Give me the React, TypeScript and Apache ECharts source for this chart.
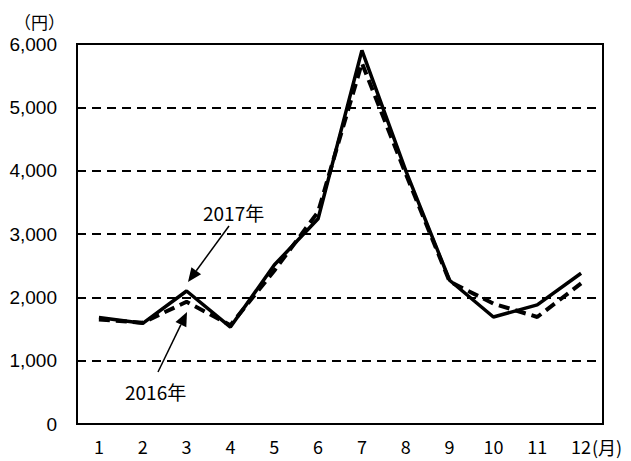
import React, { useEffect, useRef } from "react";
import * as echarts from "echarts";

const months = ["1", "2", "3", "4", "5", "6", "7", "8", "9", "10", "11", "12"];
const y2017 = [1680, 1590, 2100, 1530, 2510, 3240, 5900, 4000, 2270, 1690, 1880, 2380];
const y2016 = [1650, 1600, 1930, 1560, 2420, 3350, 5700, 3950, 2250, 1900, 1690, 2220];
const yTicks = [0, 1000, 2000, 3000, 4000, 5000, 6000];
const FONT = "'Noto Sans CJK JP', sans-serif";
const YFONT = "'Liberation Sans', Arial, sans-serif";

function arrow(tail: number[], head: number[]) {
  const dx = head[0] - tail[0];
  const dy = head[1] - tail[1];
  const len = Math.sqrt(dx * dx + dy * dy);
  const ux = dx / len, uy = dy / len;
  const L = 14, W = 6;
  const bx = head[0] - ux * L, by = head[1] - uy * L;
  return [
    { type: "line", shape: { x1: tail[0], y1: tail[1], x2: bx, y2: by }, style: { stroke: "#000", lineWidth: 1.5 } },
    {
      type: "polygon",
      shape: { points: [head, [bx - uy * W, by + ux * W], [bx + uy * W, by - ux * W]] },
      style: { fill: "#000" },
    },
  ];
}

export default function App() {
  const ref = useRef<HTMLDivElement>(null);
  useEffect(() => {
    const chart = echarts.init(ref.current!, undefined, { renderer: "svg" });
    chart.setOption({
      animation: false,
      backgroundColor: "#fff",
      grid: { left: 77, right: 28, top: 44, bottom: 37, show: true, borderColor: "#000", borderWidth: 2, containLabel: false },
      xAxis: {
        type: "category",
        data: months,
        boundaryGap: true,
        axisLine: { lineStyle: { color: "#000", width: 2 } },
        axisTick: { show: false },
        axisLabel: { color: "#000", fontSize: 18, fontFamily: FONT, margin: 13 },
      },
      yAxis: {
        type: "value",
        min: yTicks[0],
        max: yTicks[yTicks.length - 1],
        interval: 1000,
        axisLine: { show: true, lineStyle: { color: "#000", width: 2 } },
        axisTick: { show: false },
        axisLabel: {
          color: "#000",
          fontSize: 19,
          fontFamily: YFONT,
          margin: 20,
          formatter: (v: number) => v.toLocaleString("en-US"),
        },
        splitLine: { show: true, lineStyle: { color: "#000", width: 2, type: [9, 6] } },
      },
      series: [
        {
          name: "2016年",
          type: "line",
          data: y2016,
          symbol: "none",
          lineStyle: { color: "#000", width: 4, type: [11, 6] },
          z: 3,
        },
        {
          name: "2017年",
          type: "line",
          data: y2017,
          symbol: "none",
          lineStyle: { color: "#000", width: 3.5 },
          z: 4,
        },
      ],
      graphic: [
        { type: "text", x: 14, y: 21, style: { text: "（円）", font: `17px ${FONT}`, fill: "#000", verticalAlign: "middle" } },
        { type: "text", x: 592, y: 447, style: { text: "(月)", font: `18px ${FONT}`, fill: "#000", verticalAlign: "middle" } },
        { type: "text", x: 203, y: 212, style: { text: "2017年", font: `19px ${FONT}`, fill: "#000", verticalAlign: "middle" } },
        { type: "text", x: 125, y: 391, style: { text: "2016年", font: `19px ${FONT}`, fill: "#000", verticalAlign: "middle" } },
        ...arrow([229, 226], [188, 282]),
        ...arrow([158, 372], [187, 312]),
      ],
    });
    return () => chart.dispose();
  }, []);
  return <div ref={ref} style={{ width: 631, height: 461, position: "absolute", left: 0, top: 0 }} />;
}
